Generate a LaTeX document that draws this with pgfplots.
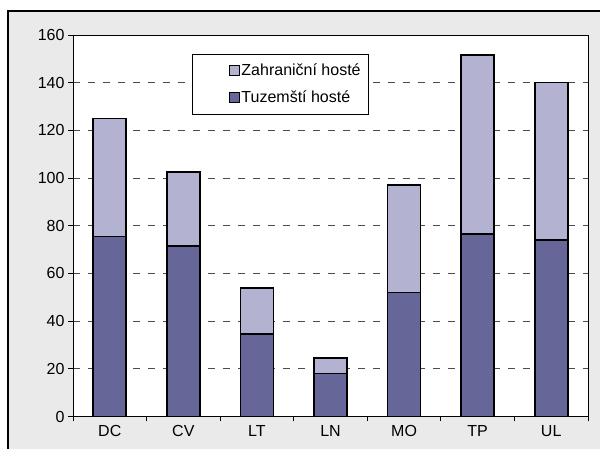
\documentclass[border=0pt]{standalone}
\usepackage{fontspec}
\setmainfont{Liberation Sans}
\usepackage{pgfplots}
\pgfplotsset{compat=1.18}
\definecolor{tuz}{HTML}{666699}
\definecolor{zah}{HTML}{B3B3D1}
\definecolor{bg}{HTML}{EAEAEA}
\begin{document}
\begin{tikzpicture}[x=1pt,y=1pt]
\useasboundingbox (0,0) rectangle (600,449);
\fill[bg] (8,-20) rectangle (620,438);
\draw[line width=1.2pt] (8,-20) -- (8,438) -- (620,438);
\begin{axis}[
  at={(73pt,32.5pt)}, anchor=south west,
  scale only axis, width=515pt, height=381.5pt,
  xmin=-0.5, xmax=6.5, ymin=0, ymax=160,
  ybar stacked, bar width=33pt,
  axis background/.style={fill=white},
  axis line style={line width=0.8pt},
  ytick={0,20,...,160},
  ymajorgrids,
  grid style={dash pattern=on 7pt off 8pt, black!70, line width=0.8pt},
  xtick={0,...,6},
  xticklabels={DC,CV,LT,LN,MO,TP,UL},
  minor xtick={-0.5,0.5,...,6.5},
  major x tick style={draw=none},
  tick align=outside, tick pos=left,
  major tick length=5pt, minor tick length=5pt,
  tick style={black, line width=0.8pt},
  ticklabel style={font=\fontsize{16}{19}\selectfont},
  /pgf/number format/assume math mode=true,
  reverse legend,
  legend cell align=left,
  legend image code/.code={
    \path (0pt,0pt);
    \draw[#1, line width=0.8pt] (30pt,-5pt) rectangle (40pt,5pt);
  },
  legend style={at={(0.231,0.950)}, anchor=north west,
    draw=black, fill=white, line width=0.6pt,
    font=\fontsize{16}{19}\selectfont,
    inner xsep=6pt, inner ysep=7.5pt, row sep=10pt},
]
\addplot[fill=tuz, draw=black, line width=1.6pt]
  coordinates {(0,75.5)(1,71.5)(2,34.5)(3,18)(4,52)(5,76.5)(6,74)};
\addplot[fill=zah, draw=black, line width=1.6pt]
  coordinates {(0,49.5)(1,31)(2,19.5)(3,6.5)(4,45)(5,75)(6,66)};
\legend{Tuzemští hosté, Zahraniční hosté}
\end{axis}
\end{tikzpicture}
\end{document}
